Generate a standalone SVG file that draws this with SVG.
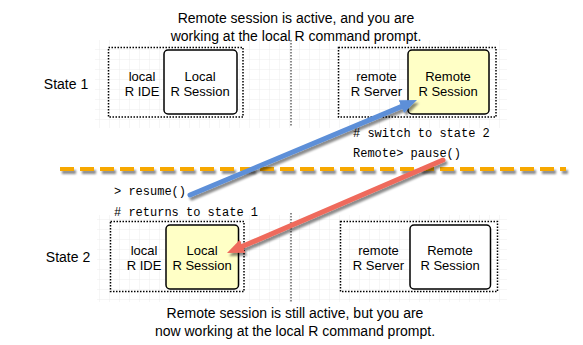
<svg xmlns="http://www.w3.org/2000/svg" width="583" height="345" viewBox="0 0 583 345">
<defs>
<pattern id="grid" width="10" height="10" patternUnits="userSpaceOnUse">
<path d="M10 0 V10 M0 10 H10" fill="none" stroke="#ececec" stroke-width="1"/>
</pattern>
<filter id="shadow" filterUnits="userSpaceOnUse" x="0" y="0" width="583" height="345">
<feDropShadow dx="2" dy="3" stdDeviation="1.3" flood-color="#000" flood-opacity="0.45"/>
</filter>
<marker id="headBlue" markerUnits="userSpaceOnUse" markerWidth="18" markerHeight="15" refX="0" refY="7" orient="auto">
<path d="M0,0 L17,7 L0,14 z" fill="#5d8fd8"/>
</marker>
<marker id="headRed" markerUnits="userSpaceOnUse" markerWidth="18" markerHeight="15" refX="0" refY="7" orient="auto">
<path d="M0,0 L17,7 L0,14 z" fill="#ef6a5c"/>
</marker>
</defs>
<style>
.t{font-family:"Liberation Sans",Arial,sans-serif;font-size:14px;fill:#000;text-anchor:middle}
.n{font-family:"Liberation Sans",Arial,sans-serif;font-size:13px;fill:#000;text-anchor:middle}
.m{font-family:"Liberation Mono","Courier New",monospace;font-size:12px;fill:#000}
.dot{fill:none;stroke:#000;stroke-width:1.5;stroke-dasharray:1.5 1.5}
.sep{fill:none;stroke:#666;stroke-width:1.5;stroke-dasharray:1.5 1.5}
.box{stroke:#000;stroke-width:1.5}
.white{fill:#fff}
.yellow{fill:#ffffc6}
</style>

<rect x="95" y="40" width="412" height="88" fill="url(#grid)"/>
<rect x="97" y="215" width="410" height="87" fill="url(#grid)"/>
<line class="sep" x1="291" y1="40" x2="291" y2="126"/>
<line class="sep" x1="291" y1="213" x2="291" y2="302"/>

<text class="t" x="296" y="23">Remote session is active, and you are</text>
<text class="t" x="296" y="41">working at the local R command prompt.</text>
<text class="t" x="66" y="89">State 1</text>
<text class="t" x="68" y="262">State 2</text>
<text class="t" x="295" y="318">Remote session is still active, but you are</text>
<text class="t" x="295" y="336">now working at the local R command prompt.</text>

<g id="s1-local">
<rect class="dot" x="108.5" y="47.5" width="134.5" height="69.5"/>
<text class="n" x="142" y="80.5">local</text>
<text class="n" x="142" y="95.5">R IDE</text>
<g id="s1-local-session">
<rect class="box white" x="164" y="50" width="73" height="64" rx="4"/>
<text class="n" x="200" y="80.5">Local</text>
<text class="n" x="200" y="95.5">R Session</text>
</g>
</g>

<g id="s1-remote">
<rect class="dot" x="338.5" y="47.5" width="157.5" height="69.5"/>
<text class="n" x="376.5" y="80.5">remote</text>
<text class="n" x="376.5" y="95.5">R Server</text>
<g id="s1-remote-session">
<rect class="box yellow" x="408" y="50" width="81" height="64" rx="4"/>
<text class="n" x="448" y="80.5">Remote</text>
<text class="n" x="448" y="95.5">R Session</text>
</g>
</g>

<g id="s2-local">
<rect class="dot" x="110.5" y="221.5" width="133.5" height="70"/>
<text class="n" x="144" y="255">local</text>
<text class="n" x="144" y="270">R IDE</text>
<g id="s2-local-session">
<rect class="box yellow" x="166" y="225" width="72.5" height="64" rx="4"/>
<text class="n" x="202" y="255">Local</text>
<text class="n" x="202" y="270">R Session</text>
</g>
</g>

<g id="s2-remote">
<rect class="dot" x="340.5" y="221.5" width="157" height="70"/>
<text class="n" x="378.5" y="255">remote</text>
<text class="n" x="378.5" y="270">R Server</text>
<g id="s2-remote-session">
<rect class="box white" x="410" y="225" width="80.5" height="64" rx="4"/>
<text class="n" x="450" y="255">Remote</text>
<text class="n" x="450" y="270">R Session</text>
</g>
</g>

<g id="code">
<text class="m" x="353" y="137"># switch to state 2</text>
<text class="m" x="353" y="157">Remote&gt; pause()</text>
<text class="m" x="114" y="195">&gt; resume()</text>
<text class="m" x="114" y="216"># returns to state 1</text>
</g>

<g id="divider" filter="url(#shadow)">
<line x1="60" y1="169" x2="566" y2="169" stroke="#f7a800" stroke-width="4" stroke-dasharray="14 6"/>
</g>

<g id="connectors" filter="url(#shadow)" fill="none" stroke-linecap="round">
<line x1="190" y1="195" x2="401.3" y2="106.6" stroke="#5d8fd8" stroke-width="5" marker-end="url(#headBlue)"/>
<line x1="443" y1="160" x2="242.6" y2="246.3" stroke="#ef6a5c" stroke-width="5" marker-end="url(#headRed)"/>
</g>
</svg>
